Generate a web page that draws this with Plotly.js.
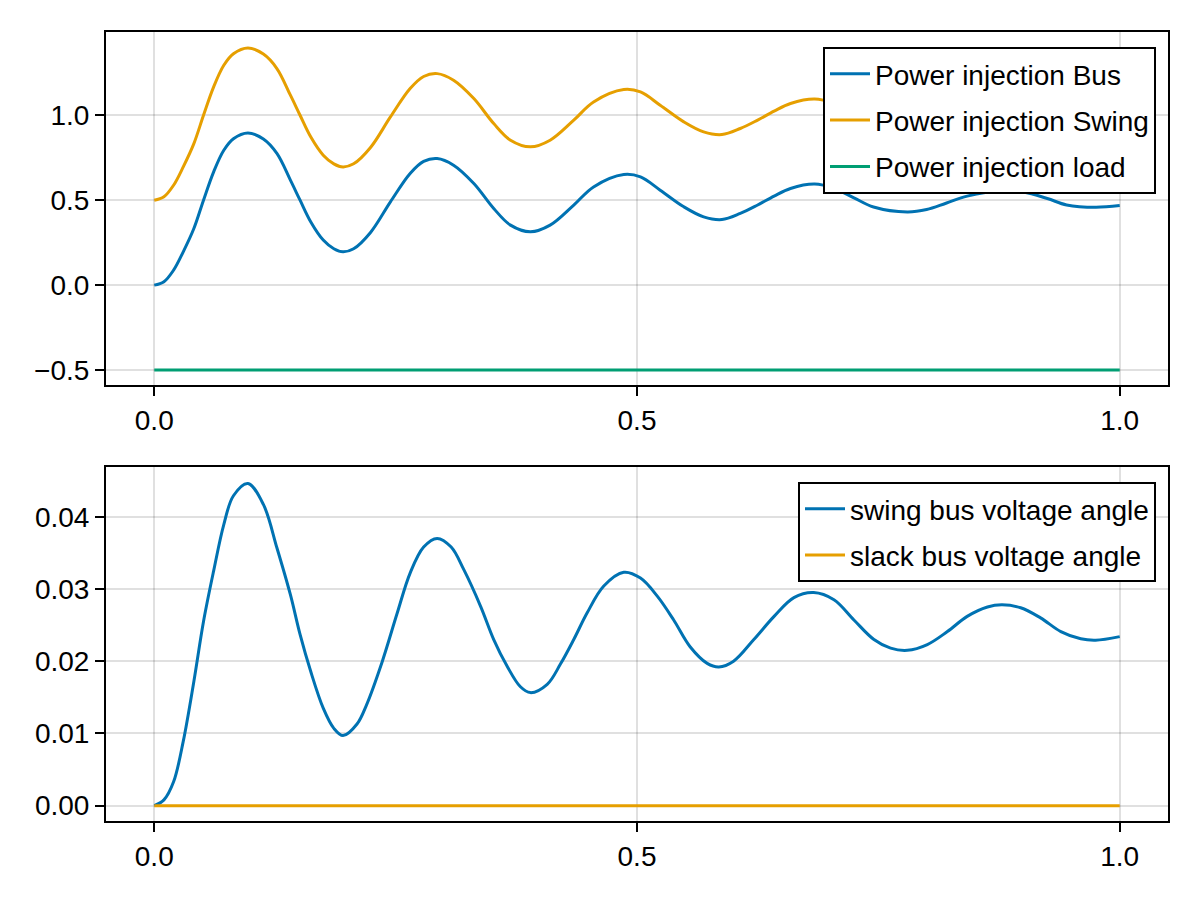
<!DOCTYPE html>
<html>
<head>
<meta charset="utf-8">
<script src="https://cdn.plot.ly/plotly-3.0.1.min.js"></script>
<style>
  html, body { margin: 0; padding: 0; background: #fff; }
  #chart { width: 1200px; height: 900px; }
</style>
</head>
<body>
<div id="chart"></div>
<script>
// Two stacked panels: power injections (top) and voltage angles (bottom).
// Values.

const BLUE = "#0072b2";
const ORANGE = "#e69f00";
const GREEN = "#009e73";
const GRID = "rgba(0,0,0,0.12)";
const FONT = "Liberation Sans, Arial, sans-serif";

// --- top panel -------------------------------------------------------------
const tTop = [
  0, 0.01, 0.02, 0.03, 0.041, 0.051, 0.0615, 0.072, 0.082, 0.097,
  0.113, 0.127, 0.141, 0.151, 0.162, 0.175, 0.186, 0.1955, 0.2065, 0.224,
  0.2446, 0.265, 0.279, 0.293, 0.31, 0.331, 0.3516, 0.369, 0.3896, 0.41,
  0.4345, 0.455, 0.4863, 0.5036, 0.524, 0.5485, 0.569, 0.588, 0.607, 0.6245,
  0.642, 0.659, 0.684, 0.704, 0.7247, 0.745, 0.78, 0.8, 0.82, 0.842,
  0.877, 0.9, 0.925, 0.945, 0.975, 1.0,
];
const powerBus = [
  0, 0.02, 0.088, 0.196, 0.333, 0.5, 0.667, 0.794, 0.862, 0.896,
  0.86, 0.775, 0.618, 0.5, 0.373, 0.265, 0.214, 0.196, 0.214, 0.31,
  0.49, 0.657, 0.728, 0.745, 0.706, 0.598, 0.451, 0.353, 0.314, 0.353,
  0.471, 0.578, 0.651, 0.637, 0.559, 0.461, 0.402, 0.386, 0.422, 0.47,
  0.524, 0.569, 0.595, 0.57, 0.514, 0.46, 0.431, 0.445, 0.482, 0.524,
  0.556, 0.548, 0.51, 0.472, 0.458, 0.468,
];
const powerSwing = [
  0.5, 0.52, 0.588, 0.696, 0.833, 1.0, 1.167, 1.294, 1.362, 1.396,
  1.36, 1.275, 1.118, 1.0, 0.873, 0.765, 0.714, 0.696, 0.714, 0.81,
  0.99, 1.157, 1.228, 1.245, 1.206, 1.098, 0.951, 0.853, 0.814, 0.853,
  0.971, 1.078, 1.151, 1.137, 1.059, 0.961, 0.902, 0.886, 0.922, 0.97,
  1.024, 1.069, 1.095, 1.07, 1.014, 0.96, 0.931, 0.945, 0.982, 1.024,
  1.056, 1.048, 1.01, 0.972, 0.958, 0.968,
];
const tLoad = [0, 1];
const powerLoad = [-0.5, -0.5];

// --- bottom panel ----------------------------------------------------------
const tBot = [
  0, 0.01, 0.02, 0.03, 0.041, 0.051, 0.0615, 0.072, 0.082, 0.097,
  0.113, 0.127, 0.141, 0.151, 0.162, 0.175, 0.186, 0.1955, 0.21, 0.22,
  0.236, 0.2515, 0.265, 0.279, 0.293, 0.3075, 0.3205, 0.338, 0.3516, 0.3655,
  0.379, 0.3896, 0.407, 0.4207, 0.4345, 0.4484, 0.4656, 0.4863, 0.5036, 0.521,
  0.538, 0.555, 0.5727, 0.5848, 0.6, 0.621, 0.642, 0.6625, 0.683, 0.704,
  0.7247, 0.7454, 0.7627, 0.78, 0.8007, 0.8215, 0.842, 0.863, 0.878, 0.8974,
  0.918, 0.939, 0.9596, 0.975, 1.0,
];
const swingAngle = [
  0, 0.0008, 0.0033, 0.0089, 0.0172, 0.0255, 0.0325, 0.0389, 0.0429, 0.0446,
  0.0417, 0.0357, 0.0292, 0.0237, 0.0186, 0.0135, 0.0107, 0.0097, 0.0113, 0.014,
  0.0199, 0.0266, 0.0322, 0.0358, 0.037, 0.0358, 0.0327, 0.0276, 0.023, 0.0193,
  0.0165, 0.01565, 0.0168, 0.0196, 0.023, 0.0267, 0.0304, 0.0323, 0.0315, 0.029,
  0.0257, 0.022, 0.0197, 0.0192, 0.02, 0.023, 0.0262, 0.0288, 0.0295, 0.0285,
  0.0257, 0.023, 0.0218, 0.0215, 0.0223, 0.0241, 0.0262, 0.0275, 0.0278, 0.0274,
  0.026, 0.0241, 0.0231, 0.0229, 0.0234,
];
const tSlack = [0, 1];
const slackAngle = [0, 0];

const topTicks = [-0.5, 0, 0.5, 1.0];
const botTicks = [0, 0.01, 0.02, 0.03, 0.04];
const xTicks = [0, 0.5, 1.0];

function line(x, y, name, color, xa, ya, legend) {
  return {
    x, y, name,
    type: "scatter",
    mode: "lines",
    line: { color, width: 3, shape: "spline", smoothing: 1, simplify: false },
    xaxis: xa, yaxis: ya,
    legend, legendgroup: name,
    hoverinfo: "skip",
  };
}

const traces = [
  line(tTop, powerBus, "Power injection Bus", BLUE, "x", "y", "legend"),
  line(tTop, powerSwing, "Power injection Swing", ORANGE, "x", "y", "legend"),
  line(tLoad, powerLoad, "Power injection load", GREEN, "x", "y", "legend"),
  line(tBot, swingAngle, "swing bus voltage angle", BLUE, "x2", "y2", "legend2"),
  line(tSlack, slackAngle, "slack bus voltage angle", ORANGE, "x2", "y2", "legend2"),
];

const axisBase = {
  showline: true, mirror: true, linecolor: "#000", linewidth: 2,
  showgrid: true, gridcolor: GRID, gridwidth: 2,
  zeroline: false,
  ticks: "outside", ticklen: 9, tickwidth: 2, tickcolor: "#000",
  tickfont: { size: 28, color: "#000", family: FONT },
  fixedrange: true,
};

const xDomain = [106 / 1200, 1168 / 1200];

const legendBase = {
  bgcolor: "#fff", bordercolor: "#000", borderwidth: 2,
  font: { size: 28, color: "#000", family: FONT },
  xanchor: "right", yanchor: "top",
  itemwidth: 40, tracegroupgap: 7,
};

const layout = {
  width: 1200, height: 900,
  paper_bgcolor: "#fff", plot_bgcolor: "#fff",
  margin: { l: 0, r: 0, t: 0, b: 0 },
  font: { family: FONT, color: "#000" },
  showlegend: true,
  xaxis: {
    ...axisBase, domain: xDomain, anchor: "y", range: [-0.05, 1.05],
    tickvals: xTicks, tickformat: ".1f",
  },
  yaxis: {
    ...axisBase, domain: [1 - 385 / 900, 1 - 32 / 900], anchor: "x",
    range: [-0.588, 1.49], tickvals: topTicks, tickformat: ".1f",
  },
  xaxis2: {
    ...axisBase, domain: xDomain, anchor: "y2", range: [-0.05, 1.05],
    tickvals: xTicks, tickformat: ".1f",
  },
  yaxis2: {
    ...axisBase, domain: [1 - 821 / 900, 1 - 467 / 900], anchor: "x2",
    range: [-0.00212, 0.04688], tickvals: botTicks, tickformat: ".2f",
  },
  legend: { ...legendBase, x: 1156 / 1200, y: 1 - 47 / 900 },
  legend2: { ...legendBase, x: 1156 / 1200, y: 1 - 482 / 900 },
};

Plotly.newPlot("chart", traces, layout, { displayModeBar: false, staticPlot: true });
</script>
</body>
</html>
